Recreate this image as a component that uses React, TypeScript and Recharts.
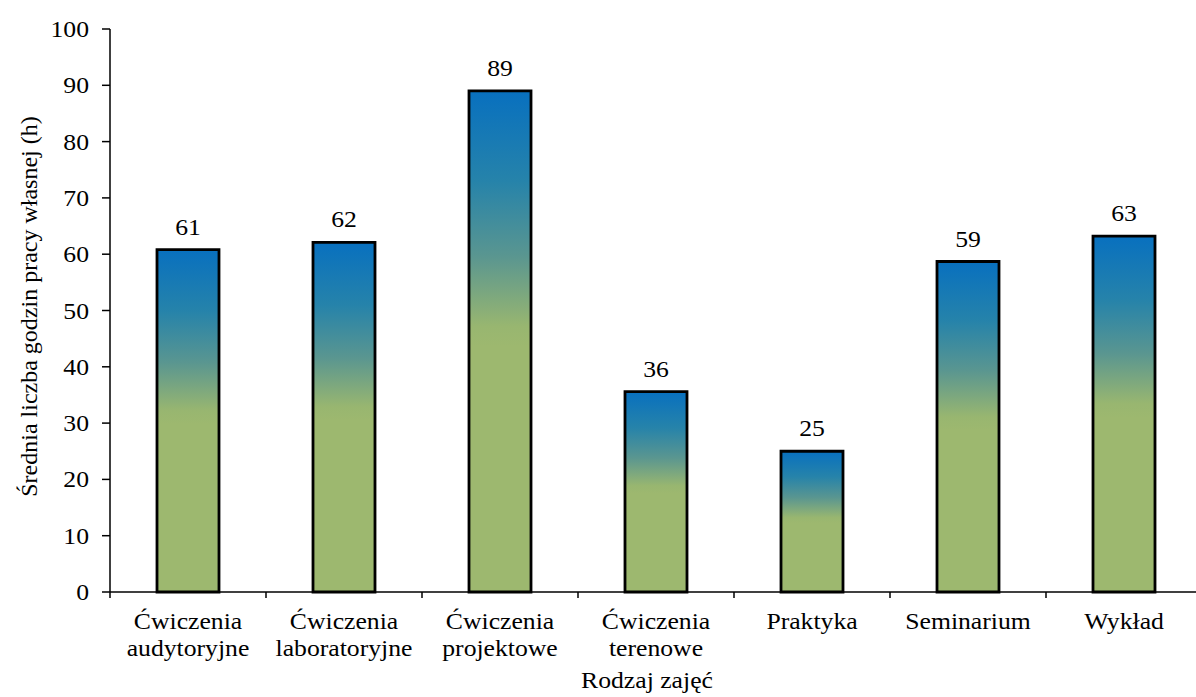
import React from "react";
import { Bar, BarChart, LabelList, Label, XAxis, YAxis } from "recharts";

// average hours of own work per type of class
const categories = [
  "Ćwiczenia\naudytoryjne",
  "Ćwiczenia\nlaboratoryjne",
  "Ćwiczenia\nprojektowe",
  "Ćwiczenia\nterenowe",
  "Praktyka",
  "Seminarium",
  "Wykład",
];
const hours = [60.8, 62.1, 89.0, 35.6, 25.0, 58.7, 63.2];
const yTicks = [0, 10, 20, 30, 40, 50, 60, 70, 80, 90, 100];

const FONT = "Liberation Serif";
const FONT_SIZE = 24;
const SX = 1.07; // the original text is a bit wider than Liberation Serif
const CHART_W = 1210;
const CHART_H = 697;
const Y_AXIS_W = 110;
const MARGIN = { top: 29, right: 8, left: 0, bottom: 0 };
const BAND = (CHART_W - MARGIN.left - MARGIN.right - Y_AXIS_W) / categories.length;

const chartData = categories.map((name, i) => ({ name, hours: hours[i] }));

const WideText = ({ x, y, anchor = "middle", children }: any) => (
  <text
    transform={`translate(${x},${y}) scale(${SX},1)`}
    textAnchor={anchor}
    fontFamily={FONT}
    fontSize={FONT_SIZE}
    fill="#000"
  >
    {children}
  </text>
);

const CategoryTick = (props: any) => {
  const { x, y, payload } = props;
  const lines = String(payload.value).split("\n");
  return (
    <g>
      <line x1={x - BAND / 2} x2={x - BAND / 2} y1={y} y2={y + 6} stroke="#000" strokeWidth={1.5} />
      {lines.map((line, i) => (
        <WideText key={i} x={x} y={y + 37 + i * 27}>
          {line}
        </WideText>
      ))}
    </g>
  );
};

const ValueTick = (props: any) => {
  const { x, y, payload } = props;
  return (
    <WideText x={x} y={y + 8} anchor="end">
      {payload.value}
    </WideText>
  );
};

const BarValue = (props: any) => {
  const { x, y, width, value } = props;
  return (
    <WideText x={Number(x) + Number(width) / 2} y={Number(y) - 15}>
      {Math.round(Number(value))}
    </WideText>
  );
};

const YTitle = (props: any) => {
  const vb = props.viewBox;
  const cx = vb.x + 29;
  const cy = vb.y + vb.height / 2 - 4;
  return (
    <text
      x={cx}
      y={cy}
      transform={`rotate(-90, ${cx}, ${cy})`}
      textAnchor="middle"
      dominantBaseline="central"
      fontFamily={FONT}
      fontSize={FONT_SIZE}
      fill="#000"
    >
      Średnia liczba godzin pracy własnej (h)
    </text>
  );
};

const XTitle = (props: any) => {
  const vb = props.viewBox;
  return (
    <WideText x={vb.x + vb.width / 2 - 9} y={vb.y + 96}>
      Rodzaj zajęć
    </WideText>
  );
};

export default function App() {
  return (
    <div
      style={{
        position: "absolute",
        left: 0,
        top: 0,
        width: 1196,
        height: 697,
        overflow: "hidden",
        background: "#fff",
      }}
    >
      <BarChart width={CHART_W} height={CHART_H} data={chartData} margin={MARGIN}>
        <defs>
          <linearGradient id="barFill" x1="0" y1="0" x2="0" y2="1">
            <stop offset="0%" stopColor="#0870BF" />
            <stop offset="18%" stopColor="#2683AA" />
            <stop offset="33%" stopColor="#5A9690" />
            <stop offset="47%" stopColor="#98B670" />
            <stop offset="51%" stopColor="#9DB86F" />
            <stop offset="100%" stopColor="#9DB86F" />
          </linearGradient>
        </defs>
        <XAxis
          dataKey="name"
          interval={0}
          height={105}
          tickSize={0}
          tickMargin={0}
          tick={<CategoryTick />}
          axisLine={{ stroke: "#000", strokeWidth: 1.5 }}
        >
          <Label content={<XTitle />} />
        </XAxis>
        <YAxis
          width={Y_AXIS_W}
          domain={[0, 100]}
          ticks={yTicks}
          interval={0}
          tickSize={8}
          tickMargin={13}
          axisLine={{ stroke: "#000", strokeWidth: 1.5 }}
          tickLine={{ stroke: "#000", strokeWidth: 1.5 }}
          tick={<ValueTick />}
        >
          <Label content={<YTitle />} />
        </YAxis>
        <Bar
          dataKey="hours"
          barSize={62}
          fill="url(#barFill)"
          stroke="#000"
          strokeWidth={2.8}
          isAnimationActive={false}
        >
          <LabelList dataKey="hours" content={<BarValue />} />
        </Bar>
      </BarChart>
    </div>
  );
}
